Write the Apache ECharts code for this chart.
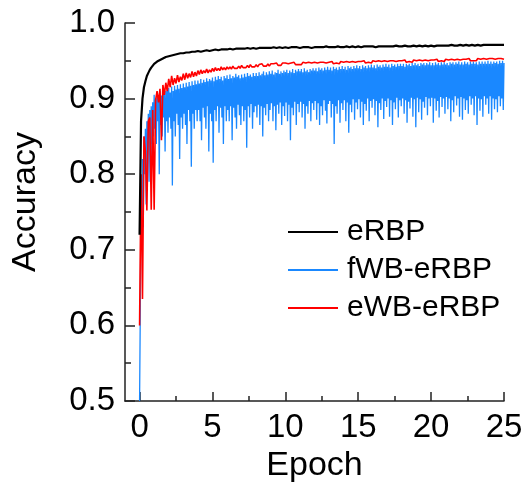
<!DOCTYPE html>
<html>
<head>
<meta charset="utf-8">
<script src="https://cdn.jsdelivr.net/npm/echarts@6/dist/echarts.min.js"></script>
<style>
html,body{margin:0;padding:0;background:#fff;}
#chart{width:531px;height:482px;}
</style>
</head>
<body>
<div id="chart"></div>
<script>
// sampling steps of the recorded curves (epochs between successive values)
const STEP_SMOOTH = 0.1;   // eRBP, eWB-eRBP
const STEP_NOISY = 0.05;   // fWB-eRBP
const xTickLabels = [0, 5, 10, 15, 20, 25];
const xMinorTicks = [2.5, 7.5, 12.5, 17.5, 22.5];
const seriesNames = ['eRBP', 'fWB-eRBP', 'eWB-eRBP'];

const eRBP = [
0.72,0.87,0.90,0.915,0.923,0.93,0.934,0.938,0.941,0.943,
0.946,0.944,0.949,0.947,0.951,0.95,0.953,0.951,0.955,0.953,
0.956,0.954,0.957,0.955,0.958,0.956,0.959,0.957,0.96,0.958,
0.96,0.958,0.961,0.959,0.961,0.96,0.962,0.96,0.962,0.96,
0.963,0.961,0.962,0.961,0.963,0.962,0.964,0.962,0.963,0.962,
0.964,0.962,0.965,0.963,0.964,0.963,0.965,0.963,0.965,0.964,
0.965,0.963,0.966,0.964,0.965,0.964,0.966,0.964,0.966,0.965,
0.966,0.964,0.966,0.965,0.967,0.965,0.966,0.965,0.967,0.965,
0.966,0.965,0.967,0.965,0.967,0.966,0.967,0.965,0.967,0.966,
0.967,0.966,0.968,0.966,0.967,0.966,0.968,0.966,0.967,0.966,
0.968,0.966,0.967,0.966,0.968,0.967,0.968,0.966,0.968,0.967,
0.967,0.966,0.968,0.967,0.968,0.966,0.968,0.967,0.967,0.966,
0.968,0.967,0.968,0.966,0.968,0.967,0.968,0.967,0.969,0.967,
0.968,0.967,0.968,0.966,0.968,0.967,0.969,0.967,0.968,0.967,
0.968,0.967,0.969,0.967,0.968,0.967,0.969,0.967,0.968,0.967,
0.969,0.967,0.968,0.967,0.969,0.968,0.969,0.967,0.969,0.968,
0.969,0.967,0.968,0.967,0.969,0.968,0.969,0.967,0.969,0.968,
0.969,0.968,0.969,0.967,0.969,0.968,0.97,0.968,0.969,0.968,
0.969,0.968,0.97,0.968,0.969,0.967,0.969,0.968,0.97,0.968,
0.969,0.968,0.97,0.968,0.969,0.968,0.97,0.968,0.969,0.968,
0.97,0.968,0.969,0.968,0.97,0.969,0.97,0.968,0.97,0.969,
0.97,0.968,0.97,0.969,0.971,0.969,0.97,0.968,0.97,0.969,
0.971,0.969,0.97,0.969,0.971,0.969,0.97,0.969,0.971,0.969,
0.97,0.969,0.971,0.969,0.97,0.969,0.971,0.97,0.971,0.969,
0.971,0.969,0.971,0.97,0.971,0.969,0.971,0.97,0.971,0.97,
0.971
];

const fWB_eRBP = [
0.50,0.62,0.78,0.70,0.82,0.73,0.85,0.80,0.86,0.76,0.87,0.83,0.88,0.79,0.885,0.84,0.89,0.82,0.895,0.85,
0.905,0.86,0.9,0.84,0.908,0.87,0.902,0.80,0.91,0.865,0.904,0.85,0.912,0.875,0.906,0.83,0.91,0.87,0.913,0.855,
0.914,0.875,0.908,0.86,0.916,0.785,0.91,0.87,0.917,0.85,0.912,0.88,0.918,0.865,0.913,0.82,0.919,0.875,0.914,0.86,
0.92,0.88,0.915,0.865,0.921,0.84,0.916,0.885,0.922,0.87,0.917,0.81,0.923,0.88,0.918,0.86,0.924,0.885,0.919,0.87,
0.924,0.885,0.92,0.87,0.926,0.845,0.921,0.888,0.925,0.875,0.922,0.86,0.927,0.89,0.923,0.83,0.926,0.88,0.924,0.87,
0.928,0.815,0.923,0.885,0.929,0.87,0.925,0.89,0.93,0.855,0.926,0.888,0.929,0.875,0.924,0.84,0.93,0.89,0.927,0.87,
0.931,0.885,0.926,0.87,0.932,0.89,0.927,0.845,0.93,0.888,0.928,0.875,0.933,0.86,0.929,0.892,0.931,0.878,0.927,0.865,
0.932,0.89,0.928,0.87,0.933,0.885,0.929,0.835,0.934,0.89,0.93,0.875,0.932,0.893,0.929,0.86,0.934,0.882,0.93,0.89,
0.934,0.875,0.93,0.892,0.935,0.865,0.931,0.89,0.933,0.85,0.936,0.888,0.931,0.878,0.935,0.893,0.932,0.87,0.936,0.885,
0.933,0.894,0.937,0.87,0.932,0.89,0.935,0.858,0.934,0.892,0.938,0.88,0.933,0.895,0.936,0.865,0.934,0.89,0.937,0.877,
0.935,0.895,0.938,0.87,0.934,0.892,0.937,0.845,0.935,0.888,0.939,0.878,0.934,0.896,0.938,0.865,0.936,0.893,0.939,0.882,
0.936,0.896,0.939,0.875,0.935,0.893,0.94,0.86,0.936,0.89,0.938,0.88,0.935,0.897,0.939,0.87,0.937,0.894,0.94,0.885,
0.937,0.897,0.94,0.872,0.936,0.894,0.941,0.865,0.938,0.89,0.94,0.878,0.937,0.898,0.941,0.884,0.938,0.867,0.942,0.893,
0.938,0.897,0.941,0.875,0.937,0.893,0.942,0.84,0.939,0.89,0.941,0.88,0.938,0.898,0.942,0.868,0.939,0.894,0.943,0.885,
0.939,0.898,0.942,0.87,0.938,0.895,0.943,0.855,0.94,0.892,0.942,0.882,0.939,0.899,0.943,0.872,0.94,0.895,0.944,0.886,
0.94,0.899,0.943,0.875,0.939,0.896,0.944,0.865,0.941,0.893,0.943,0.884,0.94,0.9,0.944,0.87,0.941,0.897,0.945,0.888,
0.941,0.899,0.944,0.878,0.94,0.897,0.945,0.862,0.942,0.894,0.944,0.885,0.941,0.9,0.945,0.873,0.942,0.897,0.946,0.889,
0.942,0.9,0.945,0.876,0.941,0.898,0.946,0.865,0.943,0.895,0.945,0.886,0.942,0.901,0.946,0.875,0.943,0.898,0.946,0.89,
0.943,0.9,0.946,0.88,0.942,0.898,0.946,0.868,0.944,0.896,0.946,0.887,0.943,0.901,0.947,0.876,0.944,0.899,0.947,0.862,
0.944,0.901,0.946,0.882,0.943,0.899,0.947,0.872,0.945,0.896,0.947,0.888,0.944,0.902,0.947,0.878,0.945,0.9,0.948,0.89,
0.944,0.901,0.947,0.868,0.944,0.9,0.948,0.884,0.945,0.897,0.947,0.875,0.944,0.902,0.948,0.889,0.945,0.9,0.948,0.88,
0.945,0.902,0.947,0.886,0.944,0.9,0.948,0.87,0.946,0.898,0.948,0.882,0.945,0.903,0.948,0.891,0.946,0.9,0.949,0.876,
0.945,0.902,0.948,0.872,0.945,0.9,0.949,0.885,0.946,0.898,0.948,0.88,0.945,0.903,0.949,0.892,0.946,0.9,0.949,0.878,
0.946,0.903,0.948,0.865,0.945,0.9,0.949,0.884,0.946,0.899,0.949,0.876,0.946,0.903,0.949,0.892,0.946,0.9,0.95,0.88,
0.946,0.903,0.949,0.872,0.946,0.9,0.949,0.886,0.947,0.899,0.949,0.882,0.946,0.903,0.95,0.89,0.947,0.9,0.95,0.885,
0.947
];

const eWB_eRBP = [
0.60,0.80,0.635,0.85,0.83,0.752,0.87,0.875,0.753,0.885,
0.753,0.898,0.91,0.895,0.913,0.845,0.918,0.905,0.921,0.91,
0.926,0.915,0.93,0.918,0.927,0.92,0.931,0.922,0.929,0.924,
0.933,0.925,0.934,0.927,0.933,0.928,0.936,0.929,0.935,0.93,
0.937,0.932,0.938,0.933,0.937,0.934,0.939,0.934,0.938,0.935,
0.94,0.936,0.941,0.937,0.94,0.937,0.942,0.938,0.941,0.938,
0.942,0.939,0.942,0.939,0.943,0.94,0.942,0.94,0.943,0.94,
0.944,0.941,0.943,0.941,0.944,0.941,0.945,0.942,0.944,0.942,
0.945,0.942,0.945,0.943,0.946,0.943,0.945,0.943,0.946,0.943,
0.946,0.944,0.946,0.944,0.947,0.944,0.946,0.944,0.947,0.945,
0.947,0.945,0.946,0.945,0.947,0.945,0.948,0.945,0.947,0.945,
0.947,0.945,0.948,0.946,0.947,0.945,0.948,0.946,0.947,0.946,
0.948,0.946,0.947,0.946,0.948,0.946,0.948,0.946,0.947,0.946,
0.948,0.946,0.949,0.946,0.948,0.947,0.948,0.946,0.949,0.947,
0.948,0.946,0.949,0.947,0.948,0.947,0.949,0.947,0.948,0.947,
0.949,0.947,0.949,0.947,0.95,0.947,0.949,0.948,0.949,0.947,
0.95,0.948,0.949,0.947,0.95,0.948,0.949,0.948,0.95,0.948,
0.949,0.948,0.95,0.948,0.95,0.948,0.949,0.948,0.95,0.948,
0.95,0.948,0.951,0.948,0.95,0.949,0.95,0.948,0.951,0.949,
0.95,0.949,0.951,0.949,0.95,0.949,0.951,0.949,0.95,0.949,
0.951,0.949,0.951,0.949,0.952,0.949,0.951,0.95,0.951,0.949,
0.952,0.95,0.951,0.949,0.952,0.95,0.951,0.95,0.952,0.95,
0.951,0.95,0.952,0.95,0.952,0.95,0.953,0.95,0.952,0.95,
0.952,0.95,0.953,0.951,0.952,0.95,0.953,0.951,0.952,0.951,
0.953,0.951,0.953,0.951,0.952,0.951,0.953,0.951,0.953,0.951,
0.952
];

function pairs(values, step) {
  return values.map(function (v, i) { return [i * step, v]; });
}

const FONT = 'Liberation Sans, Arial, sans-serif';
const AXIS_COLOR = '#222';
const chart = echarts.init(document.getElementById('chart'), null, {renderer: 'canvas'});
chart.setOption({
  animation: false,
  backgroundColor: '#ffffff',
  grid: {left: 125, right: 27, top: 23, bottom: 81, containLabel: false, outerBoundsMode: 'none'},
  legend: {
    orient: 'vertical',
    left: 283,
    top: 212,
    itemWidth: 50,
    itemHeight: 2,
    itemGap: 8,
    icon: 'rect',
    data: seriesNames,
    textStyle: {fontFamily: FONT, fontSize: 30, color: '#000', padding: [0, 0, 0, 4]}
  },
  xAxis: [{
    type: 'value',
    min: -1,
    max: 25,
    name: 'Epoch',
    nameLocation: 'middle',
    nameGap: 44,
    nameTextStyle: {fontFamily: FONT, fontSize: 34, color: '#000'},
    axisLine: {show: true, onZero: false, lineStyle: {color: AXIS_COLOR, width: 1.5}},
    axisTick: {show: true, inside: true, length: 9, customValues: xTickLabels, lineStyle: {color: AXIS_COLOR, width: 1.5}},
    axisLabel: {customValues: xTickLabels, margin: 10, fontFamily: FONT, fontSize: 33, color: '#000'},
    splitLine: {show: false}
  }, {
    type: 'value',
    min: -1,
    max: 25,
    position: 'bottom',
    axisLine: {show: false, onZero: false},
    axisTick: {show: true, inside: true, length: 5, customValues: xMinorTicks, lineStyle: {color: AXIS_COLOR, width: 1.5}},
    axisLabel: {show: false},
    splitLine: {show: false}
  }],
  yAxis: {
    type: 'value',
    min: 0.5,
    max: 1.0,
    interval: 0.1,
    name: 'Accuracy',
    nameLocation: 'middle',
    nameGap: 82,
    nameTextStyle: {fontFamily: FONT, fontSize: 34, color: '#000', padding: [0, 0, 0, 20]},
    axisLine: {show: true, onZero: false, lineStyle: {color: AXIS_COLOR, width: 1.5}},
    axisTick: {show: true, inside: true, length: 10, lineStyle: {color: AXIS_COLOR, width: 1.5}},
    minorTick: {show: true, splitNumber: 2, length: 6, lineStyle: {color: AXIS_COLOR, width: 1.5}},
    axisLabel: {margin: 10, fontFamily: FONT, fontSize: 33, color: '#000', formatter: function (v) { return v.toFixed(1); }},
    splitLine: {show: false},
    minorSplitLine: {show: false}
  },
  series: [{
    name: 'fWB-eRBP', type: 'line', xAxisIndex: 0, showSymbol: false, symbol: 'none', z: 2,
    data: pairs(fWB_eRBP, STEP_NOISY), lineStyle: {color: '#1a88ff', width: 1.3}, itemStyle: {color: '#1a88ff'}
  }, {
    name: 'eWB-eRBP', type: 'line', xAxisIndex: 0, showSymbol: false, symbol: 'none', z: 3,
    data: pairs(eWB_eRBP, STEP_SMOOTH), lineStyle: {color: '#ff0000', width: 1.6}, itemStyle: {color: '#ff0000'}
  }, {
    name: 'eRBP', type: 'line', xAxisIndex: 0, showSymbol: false, symbol: 'none', z: 4,
    data: pairs(eRBP, STEP_SMOOTH), lineStyle: {color: '#000000', width: 2.2}, itemStyle: {color: '#000000'}
  }]
});
</script>
</body>
</html>
